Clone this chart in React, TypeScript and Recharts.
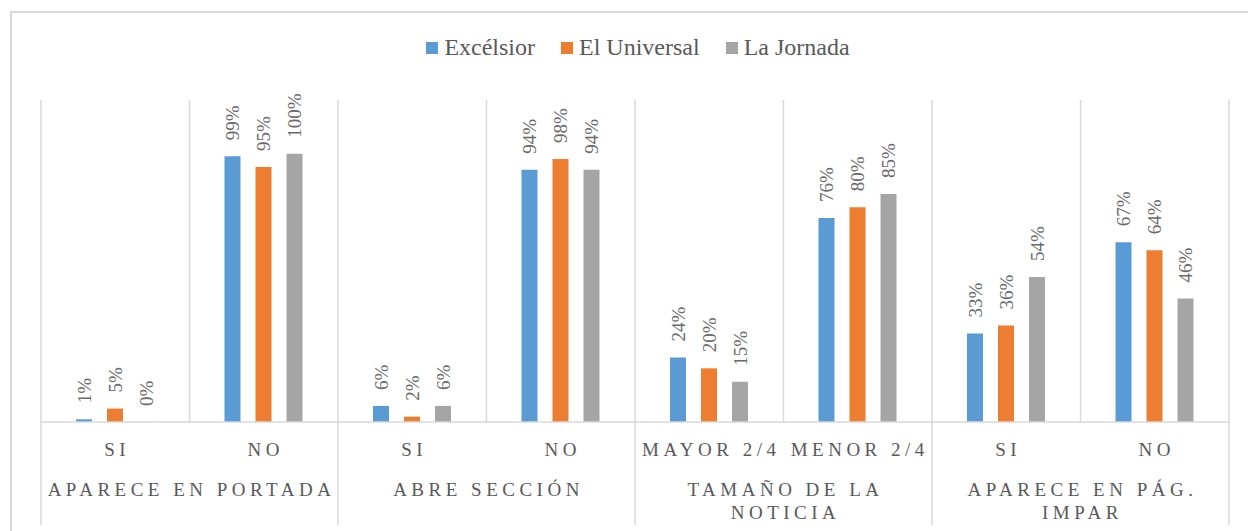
import React from 'react';
import { BarChart, Bar, XAxis, YAxis, Legend, LabelList } from 'recharts';

const categories = ['SI', 'NO', 'SI', 'NO', 'MAYOR 2/4', 'MENOR 2/4', 'SI', 'NO'];
const groupLabels = ['APARECE EN PORTADA', 'ABRE SECCIÓN', 'TAMAÑO DE LA\nNOTICIA', 'APARECE EN PÁG.\nIMPAR'];
const excelsior = [1, 99, 6, 94, 24, 76, 33, 67];
const elUniversal = [5, 95, 2, 98, 20, 80, 36, 64];
const laJornada = [0, 100, 6, 94, 15, 85, 54, 46];

const SERIES = [
  { key: 'excelsior', name: 'Excélsior', color: '#5B9BD5' },
  { key: 'universal', name: 'El Universal', color: '#ED7D31' },
  { key: 'jornada', name: 'La Jornada', color: '#A5A5A5' },
];

const data = categories.map((cat, i) => ({
  idx: i,
  cat,
  excelsior: excelsior[i],
  universal: elUniversal[i],
  jornada: laJornada[i],
}));

const W = 1248;
const H = 531;
const M = { top: 100, right: 19, bottom: 0, left: 41 };
const AXIS_H = 109;
const AXIS_Y = H - AXIS_H;
const BAND = (W - M.left - M.right) / categories.length;
const FONT = "'Liberation Serif', Tinos, 'Times New Roman', 'DejaVu Serif', serif";
const GRID = '#d9d9d9';
const TEXT = '#595959';

const CategoryTick = (props: any) => {
  const { x, index } = props;
  const left = x - BAND / 2;
  const isGroupStart = index % 2 === 0;
  const isLast = index === categories.length - 1;
  const group = groupLabels[Math.floor(index / 2)].split('\n');
  return (
    <g>
      <line x1={left} x2={left} y1={M.top} y2={isGroupStart ? 525 : AXIS_Y} stroke={GRID} strokeWidth={1.5} />
      {isLast && <line x1={x + BAND / 2} x2={x + BAND / 2} y1={M.top} y2={525} stroke={GRID} strokeWidth={1.5} />}
      <text x={x + 2} y={456} textAnchor="middle" fill={TEXT} fontSize={19} style={{ fontFamily: FONT }} letterSpacing={4.5}>
        {categories[index]}
      </text>
      {isGroupStart &&
        group.map((line, k) => (
          <text key={k} x={x + BAND / 2 + 2} y={496 + k * 23} textAnchor="middle" fill={TEXT} fontSize={19} style={{ fontFamily: FONT }} letterSpacing={4.5}>
            {line}
          </text>
        ))}
    </g>
  );
};

const ValueLabel = (props: any) => {
  const { x, y, width, value } = props;
  return (
    <text
      transform={`translate(${x + width / 2}, ${y - 16}) rotate(-90)`}
      textAnchor="start"
      dominantBaseline="central"
      fill="#6a6a6a"
      fontSize={19}
      style={{ fontFamily: FONT }}
    >
      {value}%
    </text>
  );
};

const LegendContent = () => (
  <div style={{ display: 'flex', justifyContent: 'center', paddingLeft: 28, fontFamily: FONT, fontSize: 24, color: TEXT }}>
    {SERIES.map((s) => (
      <div key={s.key} style={{ display: 'flex', alignItems: 'center', margin: '0 13px' }}>
        <span style={{ width: 12, height: 12, background: s.color, marginRight: 6, display: 'inline-block' }} />
        <span>{s.name}</span>
      </div>
    ))}
  </div>
);

export default function App() {
  return (
    <div style={{ position: 'absolute', left: 0, top: 0, width: W, height: H, overflow: 'hidden', background: '#fff', fontFamily: FONT }}>
      <div style={{ position: 'absolute', left: 10, top: 11, width: W + 20, height: H + 20, border: `2px solid ${GRID}` }} />
      <div style={{ position: 'absolute', left: 0, top: 0 }}>
        <BarChart width={W} height={H} data={data} margin={M} barGap={15} barSize={16}>
          <XAxis
            dataKey="idx"
            height={AXIS_H}
            interval={0}
            tickLine={false}
            axisLine={{ stroke: GRID, strokeWidth: 1.5 }}
            tick={(p: any) => <CategoryTick {...p} />}
          />
          <YAxis hide domain={[0, 120]} />
          <Legend
            verticalAlign="middle"
            align="center"
            content={() => <LegendContent />}
            wrapperStyle={{ top: 34, left: 0, width: W }}
          />
          {SERIES.map((s) => (
            <Bar
              key={s.key}
              dataKey={s.key}
              name={s.name}
              fill={s.color}
              minPointSize={(v: number) => (v === 0 ? 0.1 : 0)}
              isAnimationActive={false}
            >
              <LabelList dataKey={s.key} content={(p: any) => <ValueLabel {...p} />} />
            </Bar>
          ))}
        </BarChart>
      </div>
    </div>
  );
}
